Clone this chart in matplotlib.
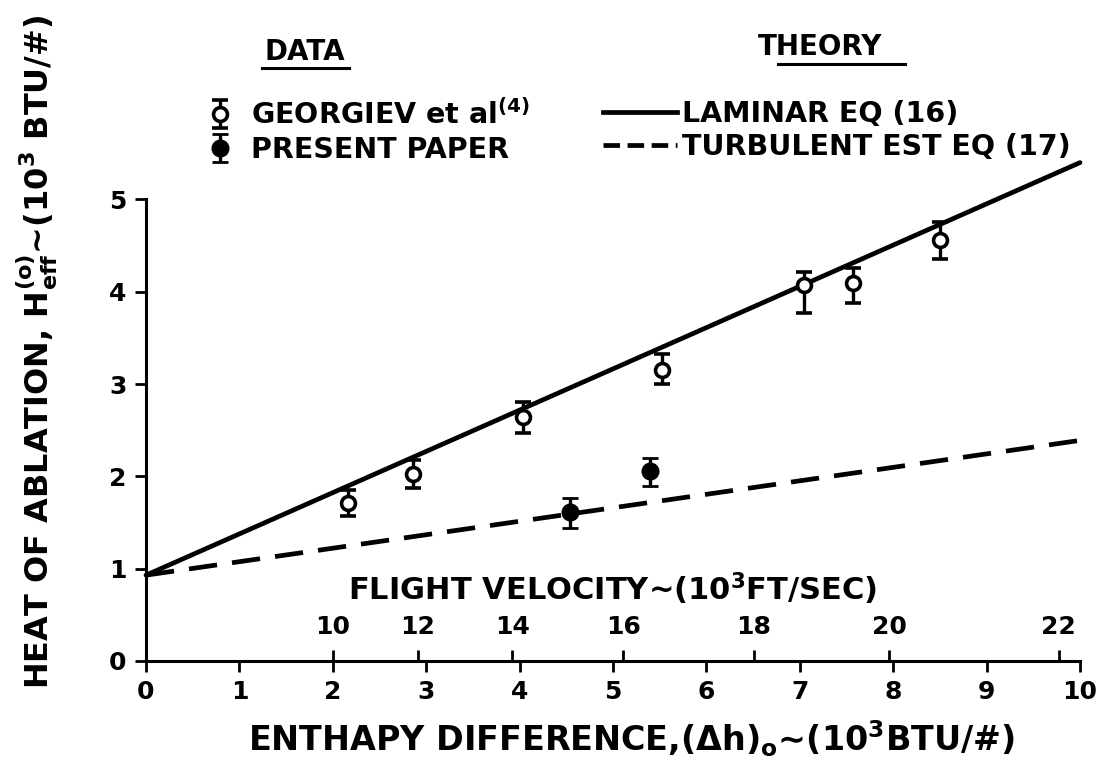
import matplotlib
matplotlib.use("Agg")
import matplotlib.pyplot as plt
from matplotlib.lines import Line2D
import numpy as np

# ---------------- data ----------------
georgiev_h = [2.16, 2.86, 4.04, 5.52, 7.04, 7.57, 8.50]
georgiev_H = [1.71, 2.03, 2.64, 3.15, 4.07, 4.10, 4.56]
georgiev_low = [1.57, 1.87, 2.47, 3.00, 3.77, 3.88, 4.36]
georgiev_high = [1.85, 2.18, 2.81, 3.33, 4.21, 4.26, 4.76]

present_h = [4.54, 5.40]
present_H = [1.61, 2.06]
present_low = [1.44, 1.90]
present_high = [1.77, 2.20]

theory_h = [0.0, 10.0]
laminar_H = [0.93, 5.40]
turbulent_H = [0.93, 2.39]

x_ticks = [0, 1, 2, 3, 4, 5, 6, 7, 8, 9, 10]
x_ticklabels = ["0", "1", "2", "3", "4", "5", "6", "7", "8", "9", "10"]
y_ticks = [0, 1, 2, 3, 4, 5]
velocity_labels = ["10", "12", "14", "16", "18", "20", "22"]
velocity_at_h = [2.00, 2.91, 3.92, 5.11, 6.51, 7.96, 9.77]

# ---------------- style ----------------
plt.rcParams['font.family'] = ['DejaVu Sans']
plt.rcParams['font.weight'] = 'bold'
plt.rcParams['mathtext.default'] = 'bf'
plt.rcParams['mathtext.fontset'] = 'dejavusans'

W, H = 1103, 763
fig = plt.figure(figsize=(W / 100, H / 100), dpi=100)
ax_left, ax_right = 146 / W, 1080 / W
ax_bottom = 1 - 661 / H
ymax = 5.45
px_per_unit = 92.3
ax_top_px = 661 - ymax * px_per_unit
ax = fig.add_axes([ax_left, ax_bottom, ax_right - ax_left, (661 - ax_top_px) / H])
ax.set_xlim(0, 10)
ax.set_ylim(0, ymax)

lw_line = 3.4
ax.plot(theory_h, laminar_H, color='black', lw=lw_line, solid_capstyle='round',
        clip_on=False, zorder=2)
ax.plot(theory_h, turbulent_H, color='black', lw=lw_line, dashes=(6, 3.2),
        clip_on=False, zorder=2)

g_err = [np.array(georgiev_H) - np.array(georgiev_low),
         np.array(georgiev_high) - np.array(georgiev_H)]
p_err = [np.array(present_H) - np.array(present_low),
         np.array(present_high) - np.array(present_H)]

eb1 = ax.errorbar(georgiev_h, georgiev_H, yerr=g_err, fmt='o', ms=10,
                  mfc='white', mec='black', mew=2.6, ecolor='black',
                  elinewidth=2.4, capsize=5.5, capthick=2.4, zorder=3)
eb2 = ax.errorbar(present_h, present_H, yerr=p_err, fmt='o', ms=11,
                  mfc='black', mec='black', mew=2.0, ecolor='black',
                  elinewidth=2.4, capsize=5.5, capthick=2.4, zorder=3)

# spines
for s in ['top', 'right']:
    ax.spines[s].set_visible(False)
ax.spines['left'].set_bounds(0, 5)
ax.spines['bottom'].set_bounds(0, 10)
ax.spines['left'].set_linewidth(2.2)
ax.spines['bottom'].set_linewidth(2.2)

ax.set_xticks(x_ticks)
ax.set_xticklabels(x_ticklabels)
ax.set_yticks(y_ticks)
ax.tick_params(axis='both', direction='out', length=8, width=2.0,
               labelsize=18, pad=6)

ax.set_xlabel("ENTHAPY DIFFERENCE,(\u0394h)$_o$\u223c(10$^3$BTU/#)",
              fontsize=24, fontweight='bold', labelpad=10)
ax.xaxis.set_label_coords(0.52, -0.115)
ax.set_ylabel("HEAT OF ABLATION, $H_{eff}^{(o)}$\u223c(10$^3$ BTU/#)",
              fontsize=23, fontweight='bold')
ax.yaxis.set_label_coords(-0.092, 0.615)

# secondary velocity scale along the axis line
sec = ax.secondary_xaxis(0.0, functions=(lambda x: x, lambda x: x))
sec.set_alignment('top')
sec.spines['top'].set_visible(False)
sec.set_xticks(velocity_at_h)
sec.set_xticklabels(velocity_labels)
sec.tick_params(axis='x', direction='out', length=8, width=2.0,
                labelsize=18, pad=8)
sec.set_xlabel("FLIGHT VELOCITY\u223c(10$^3$FT/SEC)", fontsize=22,
               fontweight='bold', labelpad=10)

# ---------------- legends ----------------
fig.text(305 / W, 1 - 52 / H, "DATA", fontsize=20, fontweight='bold',
         ha='center', va='center')
fig.add_artist(Line2D([262 / W, 349 / W], [1 - 68 / H, 1 - 68 / H],
                      color='black', lw=2.2, transform=fig.transFigure))
fig.text(820 / W, 1 - 47 / H, "THEORY", fontsize=20, fontweight='bold',
         ha='center', va='center')
fig.add_artist(Line2D([778 / W, 905 / W], [1 - 64 / H, 1 - 64 / H],
                      color='black', lw=2.2, transform=fig.transFigure))

leg1 = fig.legend([eb1, eb2], ["GEORGIEV et al$^{(4)}$", "PRESENT PAPER"],
                  loc='upper left', bbox_to_anchor=(180 / W, 1 - 74 / H),
                  frameon=False, fontsize=20.5, handlelength=1.0,
                  handletextpad=0.6, labelspacing=0.2)
leg2 = fig.legend([Line2D([], [], color='black', lw=lw_line),
                   Line2D([], [], color='black', lw=lw_line, dashes=(3.5, 1.6))],
                  ["LAMINAR EQ (16)", "TURBULENT EST EQ (17)"],
                  loc='upper left', bbox_to_anchor=(577 / W, 1 - 74 / H),
                  frameon=False, fontsize=20.5, handlelength=2.6,
                  handletextpad=0.2, labelspacing=0.2)

fig.savefig("out.png", dpi=100)
